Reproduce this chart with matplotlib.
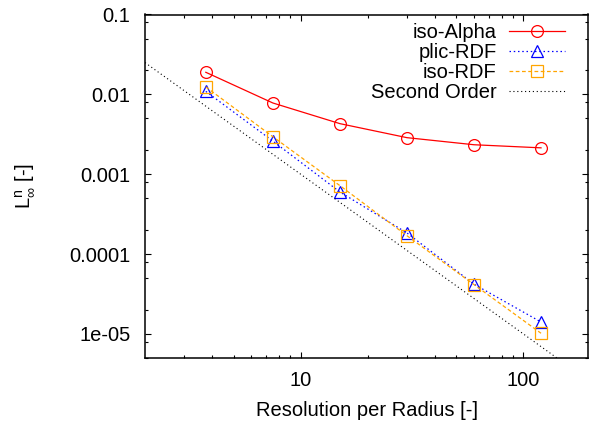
import matplotlib
matplotlib.use("Agg")
import matplotlib.pyplot as plt
from matplotlib.ticker import FixedLocator, NullFormatter

plt.rcParams['font.family'] = ['Liberation Sans', 'DejaVu Sans']
plt.rcParams['mathtext.fontset'] = 'custom'
plt.rcParams['mathtext.rm'] = 'Liberation Sans'
plt.rcParams['mathtext.it'] = 'Liberation Sans'
plt.rcParams['mathtext.sf'] = 'Liberation Sans'

# Data
resolution = [3.75, 7.5, 15, 30, 60, 120]
iso_alpha = [0.0189, 0.0078, 0.0043, 0.00287, 0.00234, 0.00214]
plic_rdf = [0.0109, 0.0026, 0.00060, 0.000184, 0.000042, 0.0000141]
iso_rdf = [0.0124, 0.00295, 0.00072, 0.00017, 0.0000415, 0.0000102]
second_order_x = [2.0, 200.0]
second_order_y = [0.025, 0.0000025]

y_ticks = [1e-5, 1e-4, 1e-3, 1e-2, 1e-1]
y_tick_labels = ["1e-05", "0.0001", "0.001", "0.01", "0.1"]
x_ticks = [10, 100]
x_tick_labels = ["10", "100"]

W, H = 589, 428
fig = plt.figure(figsize=(W / 100, H / 100), dpi=100)
left, right, top, bottom = 145, 588, 14.5, 358
ax = fig.add_axes([left / W, 1 - bottom / H, (right - left) / W, (bottom - top) / H])

ax.set_xscale('log')
ax.set_yscale('log')
ax.set_xlim(2, 195)
ax.set_ylim(5e-6, 0.1)

lw = 0.9
ax.plot(resolution, iso_alpha, color='#ff0000', lw=lw, marker='o', ms=8.5,
        mfc='none', mec='#ff0000', mew=lw, label='iso-Alpha')
ax.plot(resolution, plic_rdf, color='#0000ff', lw=lw, ls=(0, (1.2, 2.2)), marker='^', ms=8.5,
        mfc='none', mec='#0000ff', mew=lw, label='plic-RDF')
ax.plot(resolution, iso_rdf, color='#ffa500', lw=lw, ls=(0, (3, 2)), marker='s', ms=8.5,
        mfc='none', mec='#ffa500', mew=lw, label='iso-RDF')
ax.plot(second_order_x, second_order_y, color='black', lw=0.8, ls=(0, (1, 2.5)),
        label='Second Order')

ax.set_xticks(x_ticks)
ax.set_xticklabels(x_tick_labels)
ax.xaxis.set_minor_locator(FixedLocator([3, 4, 5, 6, 7, 8, 9, 20, 30, 40, 50, 60, 70, 80, 90]))
ax.xaxis.set_minor_formatter(NullFormatter())
ax.set_yticks(y_ticks)
ax.set_yticklabels(y_tick_labels)
ymin = []
for d in [1e-6, 1e-5, 1e-4, 1e-3, 1e-2]:
    for m in (2, 5, 8):
        ymin.append(d * m)
ax.yaxis.set_minor_locator(FixedLocator(ymin))
ax.yaxis.set_minor_formatter(NullFormatter())

ax.tick_params(which='both', direction='in', top=True, right=True, labelsize=14.5, width=0.8)
ax.tick_params(which='major', length=4.5, pad=10.5)
ax.tick_params(axis='x', which='major', pad=9)
ax.tick_params(which='minor', length=2.3)
for s in ax.spines.values():
    s.set_linewidth(1.1)

ax.set_xlabel('Resolution per Radius [-]', fontsize=14.5, labelpad=8)
ax.set_ylabel(r'L$^{\mathrm{n}}_{\infty}$ [-]', fontsize=14.5)
ax.yaxis.set_label_coords((25 - left) / (right - left), 0.5)
ax.yaxis.label.set_verticalalignment('center')

leg = ax.legend(loc='upper right', bbox_to_anchor=((565 - left) / (right - left), 1 - (23 - top) / (bottom - top)),
                frameon=False, markerfirst=False, fontsize=14.5, handlelength=2.8,
                handletextpad=0.6, labelspacing=0.055, borderpad=0, borderaxespad=0)

fig.savefig('out.png', dpi=100)
